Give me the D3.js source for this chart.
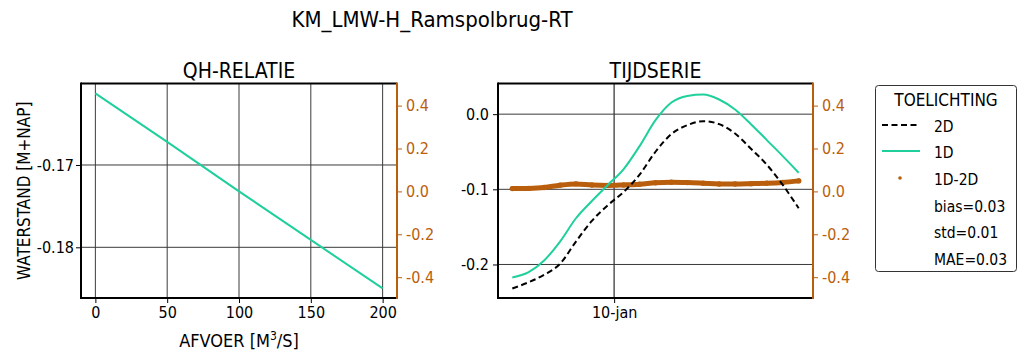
<!DOCTYPE html>
<html>
<head>
<meta charset="utf-8">
<script src="https://cdn.jsdelivr.net/npm/d3@7"></script>
<style>
  html, body { margin: 0; padding: 0; background: #fff; }
  svg { display: block; font-family: "DejaVu Sans Condensed", "DejaVu Sans", sans-serif; }
</style>
</head>
<body>
<svg id="chart" width="1022" height="354"></svg>
<script>
// ---------- DATA ----------
const chartTitle = "KM_LMW-H_Ramspolbrug-RT";

// QH relation
const qhAfvoer = [0, 50, 100, 150, 200];
const qhWaterstand = [-0.1613, -0.1672, -0.1732, -0.1791, -0.1850];
const qhXTicks = [0, 50, 100, 150, 200];
const qhYTicks = [-0.17, -0.18];

// Time series
const times = [
  "2020-01-08 16:00", "2020-01-08 21:00", "2020-01-09 02:00", "2020-01-09 07:00",
  "2020-01-09 12:00", "2020-01-09 17:00", "2020-01-09 22:00", "2020-01-10 03:00",
  "2020-01-10 08:00", "2020-01-10 13:00", "2020-01-10 18:00", "2020-01-10 23:00",
  "2020-01-11 04:00", "2020-01-11 09:00", "2020-01-11 14:00", "2020-01-11 19:00",
  "2020-01-12 00:00", "2020-01-12 05:00", "2020-01-12 10:00"
];
const series1D = [-0.2173, -0.2106, -0.1947, -0.1695, -0.1385, -0.1155, -0.0942, -0.0730,
  -0.0425, -0.0080, 0.0155, 0.0243, 0.0261, 0.0195, 0.0062, -0.0133,
  -0.0345, -0.0558, -0.0779];
const series2D = [-0.2319, -0.2239, -0.2137, -0.1991, -0.1695, -0.1420, -0.1212, -0.1035,
  -0.0805, -0.0500, -0.0265, -0.0146, -0.0093, -0.0133, -0.0257, -0.0460,
  -0.0673, -0.0942, -0.1252];
const seriesDiff = [0.013, 0.014, 0.018, 0.029, 0.035, 0.030, 0.028, 0.030,
  0.033, 0.040, 0.0425, 0.041, 0.038, 0.0346, 0.0346, 0.036,
  0.038, 0.042, 0.049];
const tsYTicks = [0.0, -0.1, -0.2];
const tsXTicks = ["2020-01-10 00:00"];
const tsXTickLabels = ["10-jan"];
const diffTicks = [0.4, 0.2, 0.0, -0.2, -0.4];

const legendTitle = "TOELICHTING";
const legendItems = ["2D", "1D", "1D-2D"];
const legendStats = ["bias=0.03", "std=0.01", "MAE=0.03"];

// ---------- STYLE ----------
const GREEN = "#1fcf9c";
const ORANGE = "#b95e0c";
const GRID = "#3a3a3a";
const FONT = "DejaVu Sans Condensed, DejaVu Sans, sans-serif";

const svg = d3.select("#chart");

svg.append("text")
  .attr("x", 432).attr("y", 27)
  .attr("text-anchor", "middle")
  .attr("font-size", 22)
  .text(chartTitle);

function frame(g, x0, x1, y0, y1) {
  g.append("line").attr("x1", x0).attr("x2", x1).attr("y1", y0).attr("y2", y0)
    .attr("stroke", "#000").attr("stroke-width", 2);
  g.append("line").attr("x1", x0).attr("x2", x1).attr("y1", y1).attr("y2", y1)
    .attr("stroke", "#000").attr("stroke-width", 2);
  g.append("line").attr("x1", x0).attr("x2", x0).attr("y1", y0 - 1).attr("y2", y1 + 1)
    .attr("stroke", "#000").attr("stroke-width", 2);
  g.append("line").attr("x1", x1).attr("x2", x1).attr("y1", y0 - 1).attr("y2", y1 + 1)
    .attr("stroke", ORANGE).attr("stroke-width", 2);
}

function styleAxis(sel, color, size) {
  sel.select(".domain").remove();
  sel.selectAll(".tick line").attr("stroke", color).attr("stroke-width", 1);
  sel.selectAll(".tick text").attr("fill", color).attr("font-size", size)
    .attr("font-family", FONT);
}

const fmt1 = d3.format(".1f"), fmt2 = d3.format(".2f");
const plain = f => d => f(d).replace("\u2212", "-");

// ---------- LEFT PANEL: QH ----------
{
  const x0 = 81, x1 = 397, y0 = 83.5, y1 = 298;
  const g = svg.append("g");
  const x = d3.scaleLinear().domain([-10, 210]).range([x0, x1]);
  const y = d3.scaleLinear().domain([-0.18616, -0.1601]).range([y1, y0]);
  const yR = d3.scaleLinear().domain([-0.497, 0.503]).range([y1, y0]);

  g.selectAll(".vg").data(qhXTicks).join("line")
    .attr("x1", d => x(d)).attr("x2", d => x(d)).attr("y1", y0).attr("y2", y1)
    .attr("stroke", GRID).attr("stroke-width", 1);
  g.selectAll(".hg").data(qhYTicks).join("line")
    .attr("x1", x0).attr("x2", x1).attr("y1", d => y(d)).attr("y2", d => y(d))
    .attr("stroke", GRID).attr("stroke-width", 1);

  const line = d3.line().x((d, i) => x(qhAfvoer[i])).y(d => y(d));
  g.append("path").datum(qhWaterstand).attr("d", line)
    .attr("fill", "none").attr("stroke", GREEN).attr("stroke-width", 2);

  frame(g, x0, x1, y0, y1);

  const ax = g.append("g").attr("transform", `translate(0,${y1 + 1})`)
    .call(d3.axisBottom(x).tickValues(qhXTicks).tickSize(4).tickPadding(4).tickFormat(d3.format("d")));
  styleAxis(ax, "#000", 16);
  const ay = g.append("g").attr("transform", `translate(${x0 - 1},0)`)
    .call(d3.axisLeft(y).tickValues(qhYTicks).tickSize(4).tickPadding(2).tickFormat(plain(fmt2)));
  styleAxis(ay, "#000", 16);
  const ar = g.append("g").attr("transform", `translate(${x1 + 1},0)`)
    .call(d3.axisRight(yR).tickValues(diffTicks).tickSize(4).tickPadding(4).tickFormat(plain(fmt1)));
  styleAxis(ar, ORANGE, 16);

  g.append("text").attr("x", (x0 + x1) / 2).attr("y", 78).attr("text-anchor", "middle")
    .attr("font-size", 21).text("QH-RELATIE");
  const xl = g.append("text").attr("x", (x0 + x1) / 2).attr("y", 347).attr("text-anchor", "middle")
    .attr("font-size", 18);
  xl.append("tspan").text("AFVOER [M");
  xl.append("tspan").attr("font-size", 12).attr("dy", -7).text("3");
  xl.append("tspan").attr("dy", 7).text("/S]");
  g.append("text").attr("transform", `translate(30,${(y0 + y1) / 2}) rotate(-90)`)
    .attr("text-anchor", "middle").attr("font-size", 17).text("WATERSTAND [M+NAP]");
}

// ---------- RIGHT PANEL: TIJDSERIE ----------
{
  const x0 = 498, x1 = 813, y0 = 83.5, y1 = 298;
  const g = svg.append("g");
  const parse = d3.timeParse("%Y-%m-%d %H:%M");
  const t = times.map(parse);
  const tExt = d3.extent(t);
  const span = tExt[1] - tExt[0];
  const x = d3.scaleTime().domain([new Date(+tExt[0] - span * 0.05), new Date(+tExt[1] + span * 0.05)]).range([x0, x1]);
  const y = d3.scaleLinear().domain([-0.2446, 0.0408]).range([y1, y0]);
  const yR = d3.scaleLinear().domain([-0.497, 0.503]).range([y1, y0]);
  const xt = tsXTicks.map(parse);

  g.selectAll(".vg").data(xt).join("line")
    .attr("x1", d => x(d)).attr("x2", d => x(d)).attr("y1", y0).attr("y2", y1)
    .attr("stroke", "#555").attr("stroke-width", 1.5);
  g.selectAll(".hg").data(tsYTicks).join("line")
    .attr("x1", x0).attr("x2", x1).attr("y1", d => y(d)).attr("y2", d => y(d))
    .attr("stroke", GRID).attr("stroke-width", 1);

  const l = ys => d3.line().curve(d3.curveMonotoneX).x((d, i) => x(t[i])).y(d => ys(d));
  g.append("path").datum(seriesDiff).attr("d", l(yR))
    .attr("fill", "none").attr("stroke", ORANGE).attr("stroke-width", 5)
    .attr("stroke-linecap", "round").attr("stroke-linejoin", "round");
  g.selectAll(".dot").data(seriesDiff).join("circle")
    .attr("cx", (d, i) => x(t[i])).attr("cy", d => yR(d)).attr("r", 2.7).attr("fill", ORANGE);
  g.append("path").datum(series2D).attr("d", l(y))
    .attr("fill", "none").attr("stroke", "#000").attr("stroke-width", 2)
    .attr("stroke-dasharray", "6,3.5");
  g.append("path").datum(series1D).attr("d", l(y))
    .attr("fill", "none").attr("stroke", GREEN).attr("stroke-width", 2);

  frame(g, x0, x1, y0, y1);

  const ax = g.append("g").attr("transform", `translate(0,${y1 + 1})`)
    .call(d3.axisBottom(x).tickValues(xt).tickSize(4).tickPadding(4).tickFormat((d, i) => tsXTickLabels[i]));
  styleAxis(ax, "#000", 16);
  const ay = g.append("g").attr("transform", `translate(${x0 - 1},0)`)
    .call(d3.axisLeft(y).tickValues(tsYTicks).tickSize(4).tickPadding(4).tickFormat(plain(fmt1)));
  styleAxis(ay, "#000", 16);
  const ar = g.append("g").attr("transform", `translate(${x1 + 1},0)`)
    .call(d3.axisRight(yR).tickValues(diffTicks).tickSize(4).tickPadding(4).tickFormat(plain(fmt1)));
  styleAxis(ar, ORANGE, 16);

  g.append("text").attr("x", (x0 + x1) / 2).attr("y", 78).attr("text-anchor", "middle")
    .attr("font-size", 21).text("TIJDSERIE");
}

// ---------- LEGEND ----------
{
  const g = svg.append("g");
  g.append("rect").attr("x", 875.5).attr("y", 85.5).attr("width", 141).attr("height", 186)
    .attr("rx", 3).attr("fill", "#fff").attr("stroke", "#333").attr("stroke-width", 1);
  g.append("text").attr("x", 946).attr("y", 106).attr("text-anchor", "middle")
    .attr("font-size", 17).text(legendTitle);
  const rows = [125, 151, 178];
  const hx0 = 882, hx1 = 920;
  g.append("line").attr("x1", hx0).attr("x2", hx1).attr("y1", rows[0]).attr("y2", rows[0])
    .attr("stroke", "#000").attr("stroke-width", 2).attr("stroke-dasharray", "6,3.5");
  g.append("line").attr("x1", hx0).attr("x2", hx1).attr("y1", rows[1]).attr("y2", rows[1])
    .attr("stroke", GREEN).attr("stroke-width", 2);
  g.append("circle").attr("cx", 900).attr("cy", rows[2]).attr("r", 1.8).attr("fill", ORANGE);
  const textRows = [131.5, 157.5, 185];
  legendItems.forEach((s, i) => {
    g.append("text").attr("x", 934).attr("y", textRows[i]).attr("font-size", 15.5).text(s);
  });
  legendStats.forEach((s, i) => {
    g.append("text").attr("x", 934).attr("y", 211.5 + i * 26.7).attr("font-size", 15.5).text(s);
  });
}
</script>
</body>
</html>
